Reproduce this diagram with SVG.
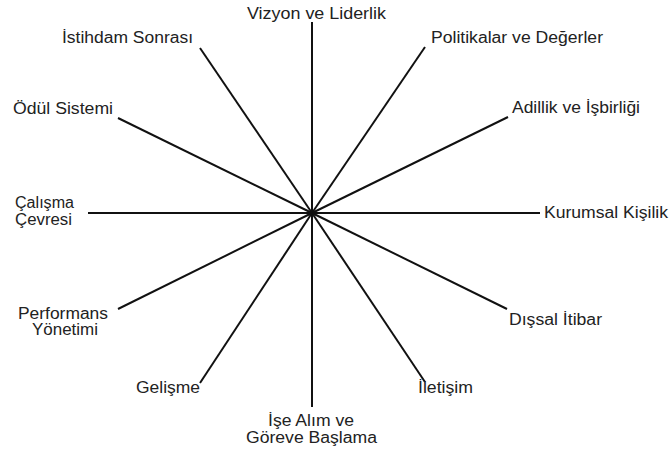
<svg xmlns="http://www.w3.org/2000/svg" width="670" height="452" viewBox="0 0 670 452">
<style>
.c line{stroke:#111;stroke-width:2;stroke-linecap:butt}
text{font-family:"Liberation Sans",Arial,sans-serif;font-size:16px;fill:#222}
</style>
<rect width="670" height="452" fill="#fff"/>
<g class="c" id="connectors">
<line x1="312" y1="213" x2="312" y2="22"/>
<line x1="312" y1="213" x2="425" y2="47"/>
<line x1="312" y1="213" x2="508" y2="117"/>
<line x1="312" y1="213" x2="540" y2="213"/>
<line x1="312" y1="213" x2="507" y2="309"/>
<line x1="312" y1="213" x2="425" y2="382"/>
<line x1="312" y1="213" x2="312" y2="407"/>
<line x1="312" y1="213" x2="200" y2="383"/>
<line x1="312" y1="213" x2="118" y2="309"/>
<line x1="312" y1="213" x2="88" y2="213"/>
<line x1="312" y1="213" x2="118" y2="118"/>
<line x1="312" y1="213" x2="200" y2="48"/>
</g>
<g id="n-vizyon"><text x="247" y="19" textLength="139" lengthAdjust="spacingAndGlyphs">Vizyon ve Liderlik</text></g>
<g id="n-politikalar"><text x="431" y="43" textLength="172" lengthAdjust="spacingAndGlyphs">Politikalar ve Değerler</text></g>
<g id="n-adillik"><text x="512" y="113" textLength="128" lengthAdjust="spacingAndGlyphs">Adillik ve İşbirliği</text></g>
<g id="n-kurumsal"><text x="544" y="218" textLength="124" lengthAdjust="spacingAndGlyphs">Kurumsal Kişilik</text></g>
<g id="n-dissal"><text x="509" y="325" textLength="93" lengthAdjust="spacingAndGlyphs">Dışsal İtibar</text></g>
<g id="n-iletisim"><text x="418" y="393" textLength="55" lengthAdjust="spacingAndGlyphs">İletişim</text></g>
<g id="n-isealim"><text x="268" y="426" textLength="86" lengthAdjust="spacingAndGlyphs">İşe Alım ve</text><text x="246" y="443" textLength="131" lengthAdjust="spacingAndGlyphs">Göreve Başlama</text></g>
<g id="n-gelisme"><text x="136" y="393" textLength="64" lengthAdjust="spacingAndGlyphs">Gelişme</text></g>
<g id="n-performans"><text x="18" y="319" textLength="90" lengthAdjust="spacingAndGlyphs">Performans</text><text x="32" y="335" textLength="66" lengthAdjust="spacingAndGlyphs">Yönetimi</text></g>
<g id="n-calisma"><text x="15" y="208" textLength="59" lengthAdjust="spacingAndGlyphs">Çalışma</text><text x="15" y="225" textLength="57" lengthAdjust="spacingAndGlyphs">Çevresi</text></g>
<g id="n-odul"><text x="13" y="114" textLength="100" lengthAdjust="spacingAndGlyphs">Ödül Sistemi</text></g>
<g id="n-istihdam"><text x="62" y="43" textLength="131" lengthAdjust="spacingAndGlyphs">İstihdam Sonrası</text></g>
</svg>
